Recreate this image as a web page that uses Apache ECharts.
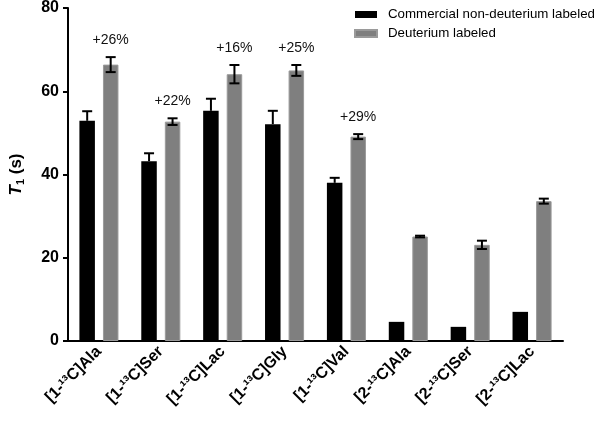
<!DOCTYPE html>
<html>
<head>
<meta charset="utf-8">
<script src="https://cdn.jsdelivr.net/npm/echarts@6/dist/echarts.min.js"></script>
<style>
html,body{margin:0;padding:0;background:#fff;}
#chart{width:600px;height:421px;}
</style>
</head>
<body>
<div id="chart"></div>
<script>
// ---- data ----
var categories = ['[1-\u00B9\u00B3C]Ala','[1-\u00B9\u00B3C]Ser','[1-\u00B9\u00B3C]Lac','[1-\u00B9\u00B3C]Gly','[1-\u00B9\u00B3C]Val','[2-\u00B9\u00B3C]Ala','[2-\u00B9\u00B3C]Ser','[2-\u00B9\u00B3C]Lac'];
var commercial = [52.9, 43.2, 55.3, 52.1, 38.0, 4.6, 3.4, 7.0];
var commercialErr = [2.3, 1.9, 2.9, 3.2, 1.2, 0, 0, 0];
var deuterium = [66.4, 52.7, 64.1, 65.0, 49.1, 25.1, 23.1, 33.6];
var deuteriumErr = [1.8, 0.8, 2.2, 1.3, 0.6, 0.2, 1.0, 0.6];
var increase = ['+26%','+22%','+16%','+25%','+29%','','',''];
var yTicks = [0, 20, 40, 60, 80];
var seriesNames = ['Commercial non-deuterium labeled', 'Deuterium labeled'];

// ---- chart ----
var FONT = 'Arial, "Liberation Sans", sans-serif';
var BAR_W = 15.5;
var OFF = 11.75;
var chart = echarts.init(document.getElementById('chart'), null, {renderer: 'canvas'});

function errData(vals, errs) {
  return vals.map(function (v, i) { return [i, v, errs[i]]; });
}

function errRender(offset, twoSided) {
  return function (params, api) {
    var idx = api.value(0), v = api.value(1), e = api.value(2);
    if (!e) return null;
    var top = api.coord([idx, v + e]);
    var mid = api.coord([idx, v]);
    var bot = api.coord([idx, v - e]);
    var x = top[0] + offset;
    var style = {stroke: '#000', lineWidth: 2};
    var y2 = twoSided ? bot[1] : mid[1];
    var children = [
      {type: 'line', shape: {x1: x, y1: top[1], x2: x, y2: y2}, style: style},
      {type: 'line', shape: {x1: x - 5, y1: top[1], x2: x + 5, y2: top[1]}, style: style}
    ];
    if (twoSided) {
      children.push({type: 'line', shape: {x1: x - 5, y1: bot[1], x2: x + 5, y2: bot[1]}, style: style});
    }
    return {type: 'group', children: children};
  };
}

var option = {
  animation: false,
  backgroundColor: '#fff',
  grid: {left: 62, right: 37, top: 8, bottom: 80},
  legend: {
    orient: 'vertical',
    left: 349,
    top: 3,
    icon: 'rect',
    itemWidth: 22,
    itemHeight: 7,
    itemGap: 6,
    data: seriesNames,
    textStyle: {fontFamily: FONT, fontSize: 13.3, color: '#000', padding: [0, 0, 0, 6]}
  },
  xAxis: {
    type: 'category',
    data: categories,
    axisLine: {lineStyle: {color: '#000', width: 2}},
    axisTick: {alignWithLabel: true, length: 5, lineStyle: {color: '#000', width: 2}},
    axisLabel: {
      rotate: 45,
      margin: 8,
      interval: 0,
      fontFamily: FONT,
      fontSize: 16,
      fontWeight: 'bold',
      color: '#000'
    }
  },
  yAxis: {
    type: 'value',
    min: 0,
    max: 80,
    interval: 20,
    splitLine: {show: false},
    axisLine: {show: true, lineStyle: {color: '#000', width: 2}},
    axisTick: {show: true, length: 5, lineStyle: {color: '#000', width: 2}},
    axisLabel: {
      margin: 9,
      fontFamily: FONT, fontSize: 16, fontWeight: 'bold', color: '#000',
      formatter: function (v) { return yTicks.indexOf(v) >= 0 ? String(v) : ''; }
    },
    name: '{t|T}{sub|1}{s| (s)}',
    nameLocation: 'middle',
    nameRotate: 90,
    nameGap: 42,
    nameTextStyle: {
      rich: {
        t: {fontFamily: FONT, fontSize: 17, fontWeight: 'bold', fontStyle: 'italic', color: '#000'},
        sub: {fontFamily: FONT, fontSize: 11, fontWeight: 'bold', color: '#000', verticalAlign: 'top', padding: [8, 0, 0, 0]},
        s: {fontFamily: FONT, fontSize: 17, fontWeight: 'bold', color: '#000'}
      }
    }
  },
  series: [
    {
      name: seriesNames[0],
      type: 'bar',
      data: commercial,
      barWidth: BAR_W,
      barGap: '52%',
      itemStyle: {color: '#000'}
    },
    {
      name: seriesNames[1],
      type: 'bar',
      data: deuterium,
      barWidth: BAR_W,
      barGap: '52%',
      itemStyle: {color: '#7f7f7f', borderColor: '#9a9a9a', borderWidth: 1}
    },
    {
      type: 'custom',
      data: errData(commercial, commercialErr),
      encode: {x: 0, y: 1},
      renderItem: errRender(-OFF, false),
      z: 5
    },
    {
      type: 'custom',
      data: errData(deuterium, deuteriumErr),
      encode: {x: 0, y: 1},
      renderItem: errRender(OFF, true),
      z: 5
    },
    {
      type: 'custom',
      data: deuterium.map(function (v, i) { return [i, v + deuteriumErr[i], increase[i]]; }),
      encode: {x: 0, y: 1},
      z: 6,
      renderItem: function (params, api) {
        var i = params.dataIndex;
        if (!increase[i]) return null;
        var p = api.coord([api.value(0), api.value(1)]);
        return {
          type: 'text',
          style: {
            x: p[0] + OFF, y: p[1] - 17,
            text: increase[i],
            fontFamily: FONT, fontSize: 14, fill: '#111',
            align: 'center', verticalAlign: 'middle'
          }
        };
      }
    }
  ]
};
chart.setOption(option);
</script>
</body>
</html>
